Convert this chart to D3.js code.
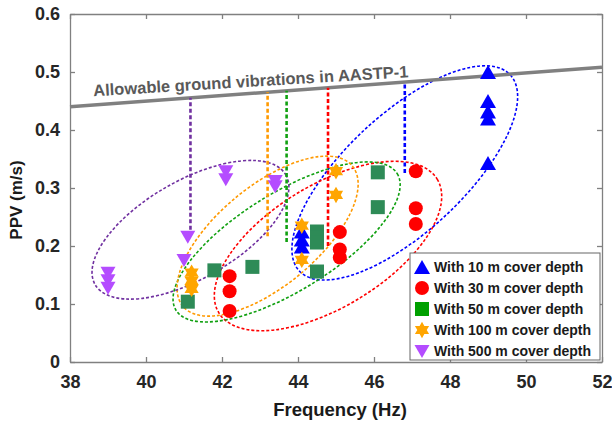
<!DOCTYPE html>
<html>
<head>
<meta charset="utf-8">
<script src="https://cdn.jsdelivr.net/npm/d3@7"></script>
<style>
body { margin: 0; background: #fff; }
text { font-family: "Liberation Sans", Arial, sans-serif; font-weight: bold; }
</style>
</head>
<body>
<div id="chart"></div>
<script>
// values
const freq10 = [49, 49, 49, 49, 49, 44.1, 44.1, 44.1];
const ppv10 = [0.5, 0.45, 0.432, 0.42, 0.343, 0.225, 0.211, 0.199];
const freq30 = [42.2, 42.2, 42.2, 45.1, 45.1, 45.1, 47.1, 47.1, 47.1];
const ppv30 = [0.148, 0.122, 0.088, 0.224, 0.194, 0.18, 0.329, 0.265, 0.238];
const freq50 = [41.1, 41.8, 42.8, 44.5, 44.5, 44.5, 44.5, 46.1, 46.1];
const ppv50 = [0.104, 0.158, 0.164, 0.225, 0.215, 0.206, 0.156, 0.327, 0.267];
const freq100 = [41.2, 41.2, 41.2, 44.1, 44.1, 45.0, 45.0];
const ppv100 = [0.154, 0.14, 0.126, 0.235, 0.176, 0.329, 0.288];
const freq500 = [39, 39, 39, 41.1, 41.0, 42.1, 42.1, 43.4, 43.4];
const ppv500 = [0.154, 0.141, 0.128, 0.216, 0.176, 0.329, 0.315, 0.312, 0.303];

const seriesNames = ["With 10 m cover depth", "With 30 m cover depth", "With 50 m cover depth",
  "With 100 m cover depth", "With 500 m cover depth"];

// allowable line (AASTP-1)
const allowFreq = [38, 52];
const allowPPV = [0.44, 0.508];

// ellipse centres (also the foot of each dashed guide line), in data units
const ellFreq = [46.81, 44.79, 43.7, 43.2, 41.17];
const ellPPV = [0.326, 0.2, 0.207, 0.217, 0.228];

const xTicks = [38, 40, 42, 44, 46, 48, 50, 52];
const yTicks = [0, 0.1, 0.2, 0.3, 0.4, 0.5, 0.6];

const margin = { top: 14, right: 10, bottom: 59, left: 70 };
const W = 612, H = 421;
const width = W - margin.left - margin.right;
const height = H - margin.top - margin.bottom;

const svg = d3.select('#chart').append('svg')
  .attr('width', W).attr('height', H);
const g = svg.append('g')
  .attr('transform', `translate(${margin.left},${margin.top})`);

const x = d3.scaleLinear().domain([38, 52]).range([0, width]);
const y = d3.scaleLinear().domain([0, 0.6]).range([height, 0]);

const markerFill = ['#0000ff', '#ff0000', '#2e8b57', '#ffa500', '#b44cff'];
const legendFill = ['#0000ff', '#ff0000', '#00a000', '#ffa500', '#b44cff'];
const ellColor = ['#0000ff', '#ff0000', '#10a010', '#ff9900', '#7030a0'];
// semi axes (px) and tilt of each ellipse
const ellShape = [
  { rx: 144, ry: 59, angle: -42.9 },
  { rx: 128, ry: 61, angle: -31.5 },
  { rx: 130, ry: 49, angle: -31.7 },
  { rx: 110, ry: 50, angle: -39.6 },
  { rx: 110, ry: 49, angle: -29.9 }
];

// axes box
const axisColor = '#808080';
const bottomAxis = g.append('g')
  .attr('transform', `translate(0,${height})`)
  .call(d3.axisBottom(x).tickValues(xTicks).tickSizeInner(-5).tickSizeOuter(0).tickPadding(13));
const leftAxis = g.append('g')
  .call(d3.axisLeft(y).tickValues(yTicks).tickFormat(d => d === 0 ? '0' : d3.format('.1f')(d))
    .tickSizeInner(-5).tickSizeOuter(0).tickPadding(10));
g.append('g').call(d3.axisTop(x).tickValues(xTicks).tickSizeInner(-5).tickSizeOuter(0).tickFormat(''));
g.append('g').attr('transform', `translate(${width},0)`)
  .call(d3.axisRight(y).tickValues(yTicks).tickSizeInner(-5).tickSizeOuter(0).tickFormat(''));
g.selectAll('.domain, .tick line').attr('stroke', axisColor).attr('stroke-width', 1.3);
g.selectAll('.tick text').attr('fill', '#262626').style('font-size', '18px');

// ellipses
ellFreq.forEach((f, i) => {
  const cx = x(f), cy = y(ellPPV[i]);
  g.append('ellipse')
    .attr('cx', cx).attr('cy', cy)
    .attr('rx', ellShape[i].rx).attr('ry', ellShape[i].ry)
    .attr('transform', `rotate(${ellShape[i].angle},${cx},${cy})`)
    .attr('fill', 'none')
    .attr('stroke', ellColor[i])
    .attr('stroke-width', 1.6)
    .attr('stroke-dasharray', '3,2');
});

// allowable line
const allowAt = f => allowPPV[0] + (f - allowFreq[0]) * (allowPPV[1] - allowPPV[0]) / (allowFreq[1] - allowFreq[0]);
g.append('line')
  .attr('x1', x(allowFreq[0])).attr('y1', y(allowPPV[0]))
  .attr('x2', x(allowFreq[1])).attr('y2', y(allowPPV[1]))
  .attr('stroke', '#808080').attr('stroke-width', 3.5);

g.append('text')
  .attr('transform', `translate(${x(38.62)},${y(0.458)}) rotate(-3.5)`)
  .attr('fill', '#595959')
  .style('font-size', '16.5px')
  .text('Allowable ground vibrations in AASTP-1');

// dashed guides from ellipse centre up to the allowable line
ellFreq.forEach((f, i) => {
  g.append('line')
    .attr('x1', x(f)).attr('x2', x(f))
    .attr('y1', y(ellPPV[i])).attr('y2', y(allowAt(f)))
    .attr('stroke', ellColor[i])
    .attr('stroke-width', 2.6)
    .attr('stroke-dasharray', '4,2.5');
});

// marker shapes
const triUp = 'M0,-7L8,7L-8,7Z';
const triDown = 'M0,7L7.5,-6L-7.5,-6Z';
const hexagram = (() => {
  const R = 8.2, r = R / Math.sqrt(3);
  const pts = d3.range(12).map(k => {
    const a = -Math.PI / 2 + k * Math.PI / 6;
    const rad = k % 2 === 0 ? R : r;
    return [rad * Math.cos(a), rad * Math.sin(a)];
  });
  return 'M' + pts.map(p => p.join(',')).join('L') + 'Z';
})();
const shapes = [
  sel => sel.append('path').attr('d', triUp),
  sel => sel.append('circle').attr('r', 7),
  sel => sel.append('rect').attr('x', -7).attr('y', -7).attr('width', 14).attr('height', 14),
  sel => sel.append('path').attr('d', hexagram),
  sel => sel.append('path').attr('d', triDown)
];

const series = [
  [freq10, ppv10], [freq30, ppv30], [freq50, ppv50], [freq100, ppv100], [freq500, ppv500]
];
series.forEach(([fs, ps], i) => {
  const pts = fs.map((f, k) => ({ f: f, p: ps[k] }));
  g.append('g').selectAll('g')
    .data(pts)
    .enter().append('g')
    .attr('transform', d => `translate(${x(d.f)},${y(d.p)})`)
    .each(function () { shapes[i](d3.select(this)).attr('fill', markerFill[i]); });
});

// legend
const legend = g.append('g').attr('transform', `translate(${340},${239})`);
legend.append('rect')
  .attr('width', 190).attr('height', 107)
  .attr('fill', '#fff').attr('stroke', '#666').attr('stroke-width', 1);
seriesNames.forEach((name, i) => {
  const row = legend.append('g').attr('transform', `translate(12,${14 + i * 21})`);
  shapes[i](row).attr('fill', legendFill[i]);
  row.append('text')
    .attr('x', 12).attr('y', 5)
    .attr('fill', '#1a1a1a')
    .style('font-size', '14px')
    .text(name);
});

// axis titles
svg.append('text')
  .attr('x', margin.left + width / 2 + 4).attr('y', 416)
  .attr('text-anchor', 'middle')
  .attr('fill', '#1a1a1a')
  .style('font-size', '18.5px')
  .text('Frequency (Hz)');
svg.append('text')
  .attr('transform', `translate(22,200) rotate(-90)`)
  .attr('text-anchor', 'middle')
  .attr('fill', '#1a1a1a')
  .style('font-size', '17px')
  .text('PPV (m/s)');
</script>
</body>
</html>
